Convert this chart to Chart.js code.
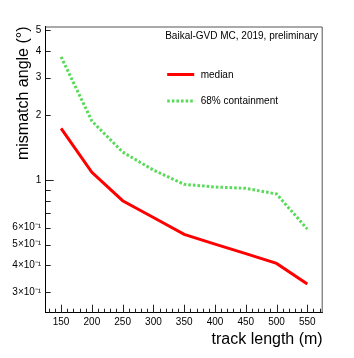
<!DOCTYPE html>
<html>
<head>
<meta charset="utf-8">
<script src="https://cdn.jsdelivr.net/npm/chart.js@4/dist/chart.umd.min.js"></script>
<style>
  html, body { margin: 0; padding: 0; background: #fff; }
  #wrap { width: 354px; height: 358px; }
</style>
</head>
<body>
<div id="wrap"><canvas id="c" width="354" height="358"></canvas></div>
<script>
// ---- data ----
const trackLength = [150, 200, 250, 300, 350, 400, 450, 500, 550];
const medianAngle = [1.74, 1.086, 0.801, 0.669, 0.558, 0.503, 0.454, 0.409, 0.328];
const containment68 = [3.75, 1.883, 1.35, 1.113, 0.955, 0.928, 0.915, 0.861, 0.591];
const xTickValues = [150, 200, 250, 300, 350, 400, 450, 500, 550];
const yTickValues = [0.3, 0.4, 0.5, 0.6, 0.7, 0.8, 0.9, 1, 2, 3, 4, 5];
const yTickLabels = ['3×10⁻¹', '4×10⁻¹', '5×10⁻¹', '6×10⁻¹', '', '', '', '1', '2', '3', '4', '5'];
const seriesNames = ['median', '68% containment'];
const noteText = 'Baikal-GVD MC, 2019, preliminary';
const xTitle = 'track length (m)';
const yTitle = 'mismatch angle (°)';

const FONT = '"Liberation Sans", Arial, Helvetica, sans-serif';

const framePlugin = {
  id: 'rootFrame',
  afterDraw(chart) {
    const ctx = chart.ctx;
    const a = chart.chartArea;
    const xs = chart.scales.x, ys = chart.scales.y;
    ctx.save();
    // frame top/right
    ctx.strokeStyle = '#555';
    ctx.lineWidth = 1;
    ctx.beginPath();
    ctx.moveTo(a.left, a.top + 0.5);
    ctx.lineTo(a.right - 0.5, a.top + 0.5);
    ctx.lineTo(a.right - 0.5, a.bottom);
    ctx.stroke();
    // x ticks (inside, from bottom)
    ctx.strokeStyle = '#222';
    ctx.beginPath();
    for (let v = Math.ceil(xs.min / 10) * 10; v <= xs.max; v += 10) {
      const px = Math.round(xs.getPixelForValue(v)) + 0.5;
      const len = (v % 50 === 0) ? 8 : 4;
      ctx.moveTo(px, a.bottom);
      ctx.lineTo(px, a.bottom - len);
    }
    // y ticks (inside, from left)
    yTickValues.forEach(v => {
      const py = Math.round(ys.getPixelForValue(v)) + 0.5;
      const len = (v === 1) ? 8 : 5;
      ctx.moveTo(a.left, py);
      ctx.lineTo(a.left + len, py);
    });
    ctx.stroke();

    // note text
    ctx.fillStyle = '#000';
    ctx.font = '10px ' + FONT;
    ctx.textAlign = 'left';
    ctx.textBaseline = 'middle';
    ctx.fillText(noteText, a.left + 119.5, a.top + 10);

    // legend
    const ds = chart.data.datasets;
    const lx0 = a.left + 121.5, lx1 = a.left + 148.5, tx = a.left + 155;
    const rows = [a.top + 48, a.top + 74.5];
    ds.forEach((d, i) => {
      ctx.save();
      ctx.strokeStyle = d.borderColor;
      ctx.lineWidth = d.borderWidth;
      ctx.setLineDash(d.borderDash || []);
      ctx.beginPath();
      ctx.moveTo(lx0, rows[i]);
      ctx.lineTo(lx1, rows[i]);
      ctx.stroke();
      ctx.restore();
      ctx.fillStyle = '#000';
      ctx.fillText(d.label, tx, rows[i] + 0.5);
    });
    ctx.restore();
  }
};

new Chart(document.getElementById('c'), {
  type: 'line',
  data: {
    datasets: [
      {
        label: seriesNames[0],
        data: trackLength.map((x, i) => ({ x: x, y: medianAngle[i] })),
        borderColor: 'rgb(255,0,0)',
        borderWidth: 3,
        pointRadius: 0,
        tension: 0,
        fill: false
      },
      {
        label: seriesNames[1],
        data: trackLength.map((x, i) => ({ x: x, y: containment68[i] })),
        borderColor: 'rgb(90,218,90)',
        borderWidth: 3,
        borderDash: [2.6, 2],
        borderCapStyle: 'butt',
        pointRadius: 0,
        tension: 0,
        fill: false
      }
    ]
  },
  options: {
    responsive: false,
    animation: false,
    layout: { padding: { left: 0, top: 26.5, right: 31.3, bottom: 0 } },
    plugins: { legend: { display: false }, tooltip: { enabled: false } },
    scales: {
      x: {
        type: 'linear',
        min: 125,
        max: 575,
        afterBuildTicks: s => { s.ticks = xTickValues.map(v => ({ value: v })); },
        afterFit: s => { s.height = 45.3; },
        grid: { display: false, drawTicks: false },
        border: { display: true, color: '#000', width: 1 },
        ticks: {
          color: '#000',
          font: { family: FONT, size: 10 },
          padding: 4,
          maxRotation: 0,
          autoSkip: false
        },
        title: {
          display: true,
          text: xTitle,
          align: 'end',
          color: '#000',
          font: { family: FONT, size: 16 },
          padding: { top: 0, bottom: 9 }
        }
      },
      y: {
        type: 'logarithmic',
        min: 0.241,
        max: 5.19,
        afterBuildTicks: s => { s.ticks = yTickValues.map(v => ({ value: v })); },
        afterFit: s => { s.width = 45.7; },
        grid: { display: false, drawTicks: false },
        border: { display: true, color: '#000', width: 1 },
        ticks: {
          color: '#000',
          font: { family: FONT, size: 10 },
          padding: 4.5,
          autoSkip: false,
          callback: (v) => {
            const i = yTickValues.findIndex(t => Math.abs(t - v) < 1e-9);
            return i >= 0 ? yTickLabels[i] : '';
          }
        },
        title: {
          display: true,
          text: yTitle,
          align: 'end',
          color: '#000',
          font: { family: FONT, size: 16 },
          padding: { top: 14, bottom: 0 }
        }
      }
    }
  },
  plugins: [framePlugin]
});
</script>
</body>
</html>
